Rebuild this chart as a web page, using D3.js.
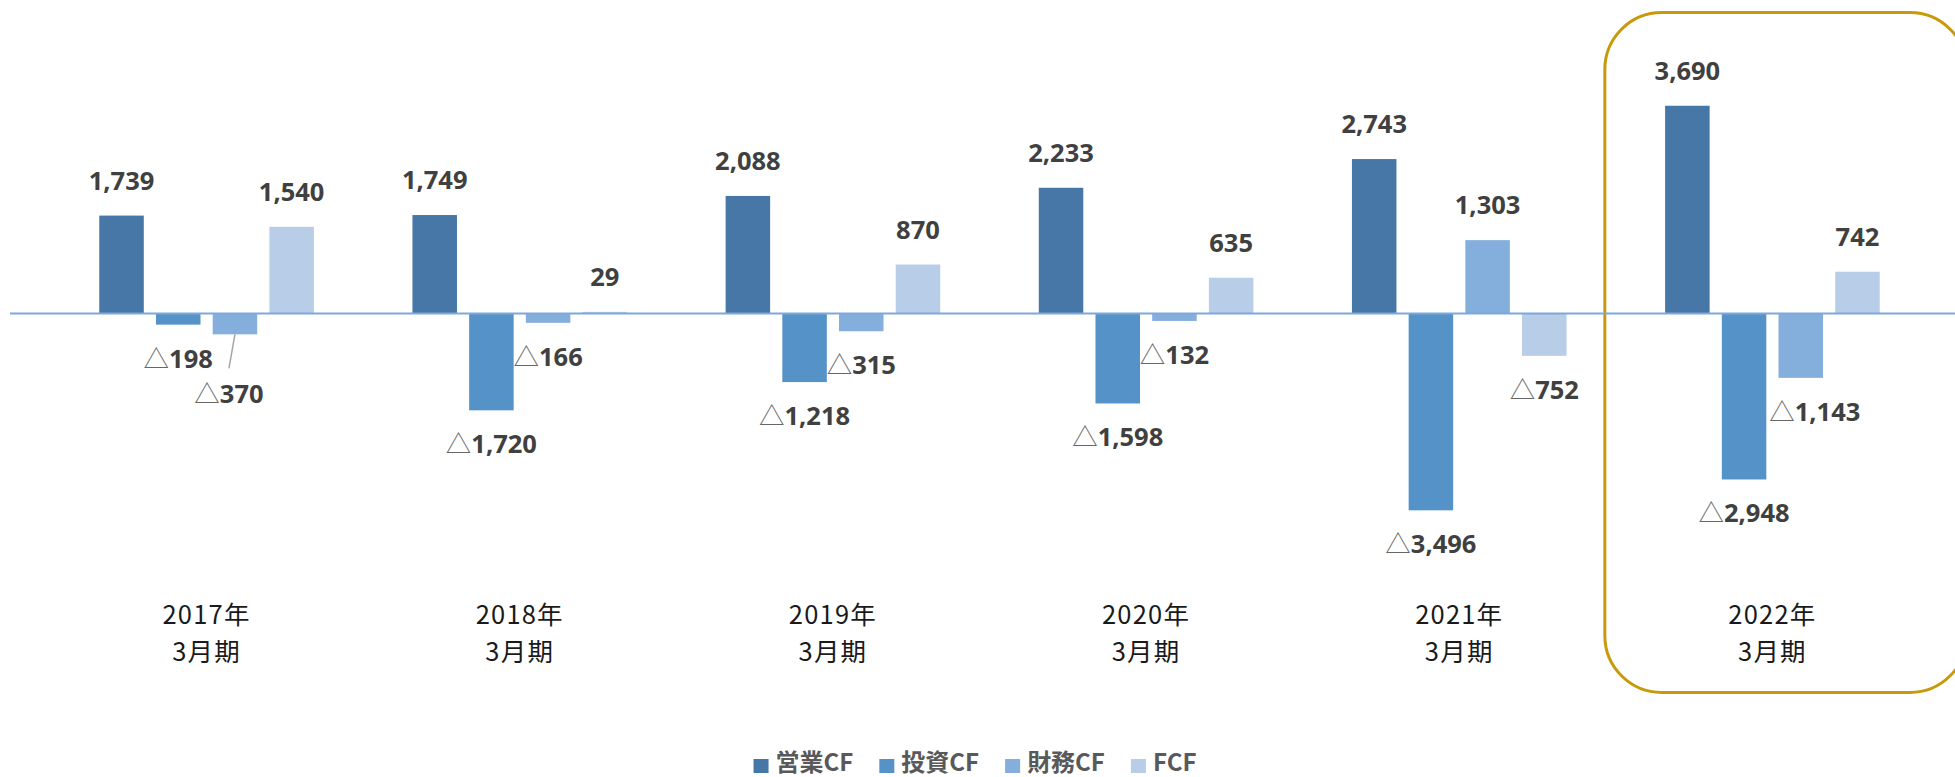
<!DOCTYPE html>
<html>
<head>
<meta charset="utf-8">
<script src="https://cdn.jsdelivr.net/npm/d3@7"></script>
<style>
  body { margin: 0; background: #fff; }
  svg { display: block; }
</style>
</head>
<body>
<div id="chart"></div>
<script>
// periods (two-line labels)
const years = ["2017年", "2018年", "2019年", "2020年", "2021年", "2022年"];
const periodSuffix = "3月期";
const seriesNames = ["営業CF", "投資CF", "財務CF", "FCF"];

// values (百万円)
const operatingCF = [1739, 1749, 2088, 2233, 2743, 3690];
const investingCF = [-198, -1720, -1218, -1598, -3496, -2948];
const financingCF = [-370, -166, -315, -132, 1303, -1143];
const freeCF      = [1540, 29, 870, 635, -752, 742];

const colors = ["#4677a7", "#5592c8", "#84aedc", "#b8cde8"];

const width = 1955, height = 777;

const svg = d3.select("#chart").append("svg")
    .attr("width", width)
    .attr("height", height);

svg.append("rect").attr("width", width).attr("height", height).attr("fill", "#fff");

const x0 = d3.scaleBand()
    .domain(years)
    .range([50, 1929])
    .padding(0);

const groupW = 226.8;
const x1 = d3.scaleBand()
    .domain(seriesNames)
    .range([(x0.bandwidth() - groupW) / 2, (x0.bandwidth() + groupW) / 2])
    .paddingInner(0.215)
    .paddingOuter(0.1075);

// 0 sits at y=313.5, ~0.0563 px per unit
const y = d3.scaleLinear()
    .domain([-4000, 4000])
    .range([313.5 + 4000 * 0.0563, 313.5 - 4000 * 0.0563]);

const allSeries = [operatingCF, investingCF, financingCF, freeCF];
const rows = [];
years.forEach((yr, i) => {
    seriesNames.forEach((s, j) => {
        rows.push({ year: yr, series: s, idx: j, value: allSeries[j][i] });
    });
});

// highlight box round the latest year
const hx = x0(years[5]) - 11;
svg.append("rect")
    .attr("x", hx)
    .attr("y", 12.5)
    .attr("width", 362)
    .attr("height", 680)
    .attr("rx", 57)
    .attr("ry", 57)
    .attr("fill", "none")
    .attr("stroke", "#c8990b")
    .attr("stroke-width", 3);

// bars
svg.append("g").selectAll("rect")
    .data(rows)
    .join("rect")
    .attr("x", d => x0(d.year) + x1(d.series))
    .attr("y", d => y(Math.max(0, d.value)))
    .attr("width", x1.bandwidth())
    .attr("height", d => Math.abs(y(d.value) - y(0)))
    .attr("fill", d => colors[d.idx]);

// zero line
svg.append("line")
    .attr("x1", 10)
    .attr("x2", width)
    .attr("y1", y(0))
    .attr("y2", y(0))
    .attr("stroke", "#7ea8da")
    .attr("stroke-width", 2);

// label nudges where Excel labels were moved by hand
const nudges = {
    "2017年|財務CF": { dx: -6, dy: 26, leader: true },
    "2022年|財務CF": { dx: 14, dy: 0 }
};

const labels = svg.append("g")
    .attr("font-family", "'Noto Sans', 'Noto Sans CJK JP', sans-serif")
    .attr("font-size", 25.5)
    .attr("font-weight", 700)
    .attr("fill", "#404040")
    .attr("text-anchor", "middle");

rows.forEach(d => {
    const cx = x0(d.year) + x1(d.series) + x1.bandwidth() / 2;
    const n = nudges[d.year + "|" + d.series] || { dx: 0, dy: 0 };
    const yy = d.value >= 0 ? y(d.value) - 26 : y(d.value) + 43;
    const t = labels.append("text")
        .attr("x", cx + n.dx)
        .attr("y", yy + n.dy);
    if (d.value < 0) {
        t.append("tspan")
            .attr("font-family", "'Noto Sans CJK JP', sans-serif")
            .attr("font-weight", 400)
            .attr("fill", "#666")
            .text("△");
    }
    t.append("tspan").text(d3.format(",")(Math.abs(d.value)));

    if (n.leader) {
        svg.append("line")
            .attr("x1", cx)
            .attr("y1", y(d.value))
            .attr("x2", cx + n.dx)
            .attr("y2", yy + n.dy - 35)
            .attr("stroke", "#a6a6a6")
            .attr("stroke-width", 1.5);
    }
});

// category labels, two lines
const cats = svg.append("g")
    .attr("font-family", "'Noto Sans CJK JP', sans-serif")
    .attr("font-size", 25.5)
    .attr("letter-spacing", 1.2)
    .attr("fill", "#1a1a1a")
    .attr("text-anchor", "middle");

years.forEach(yr => {
    const cx = x0(yr) + x0.bandwidth() / 2;
    cats.append("text").attr("x", cx).attr("y", 623.5).text(yr);
    cats.append("text").attr("x", cx).attr("y", 660.5).text(periodSuffix);
});

// legend
const legend = svg.append("g")
    .attr("font-family", "'Noto Sans CJK JP', sans-serif")
    .attr("font-size", 24)
    .attr("font-weight", 700)
    .attr("fill", "#595959");

let lx = 0;
seriesNames.forEach((s, i) => {
    const g = legend.append("g");
    g.append("rect")
        .attr("x", lx).attr("y", 759)
        .attr("width", 15).attr("height", 14)
        .attr("fill", colors[i]);
    const t = g.append("text")
        .attr("x", lx + 22).attr("y", 771)
        .text(s);
    const w = t.node().getComputedTextLength();
    lx += 22 + w + 26;
});
const legendW = lx - 26;
legend.attr("transform", `translate(${975 - legendW / 2},0)`);
</script>
</body>
</html>
